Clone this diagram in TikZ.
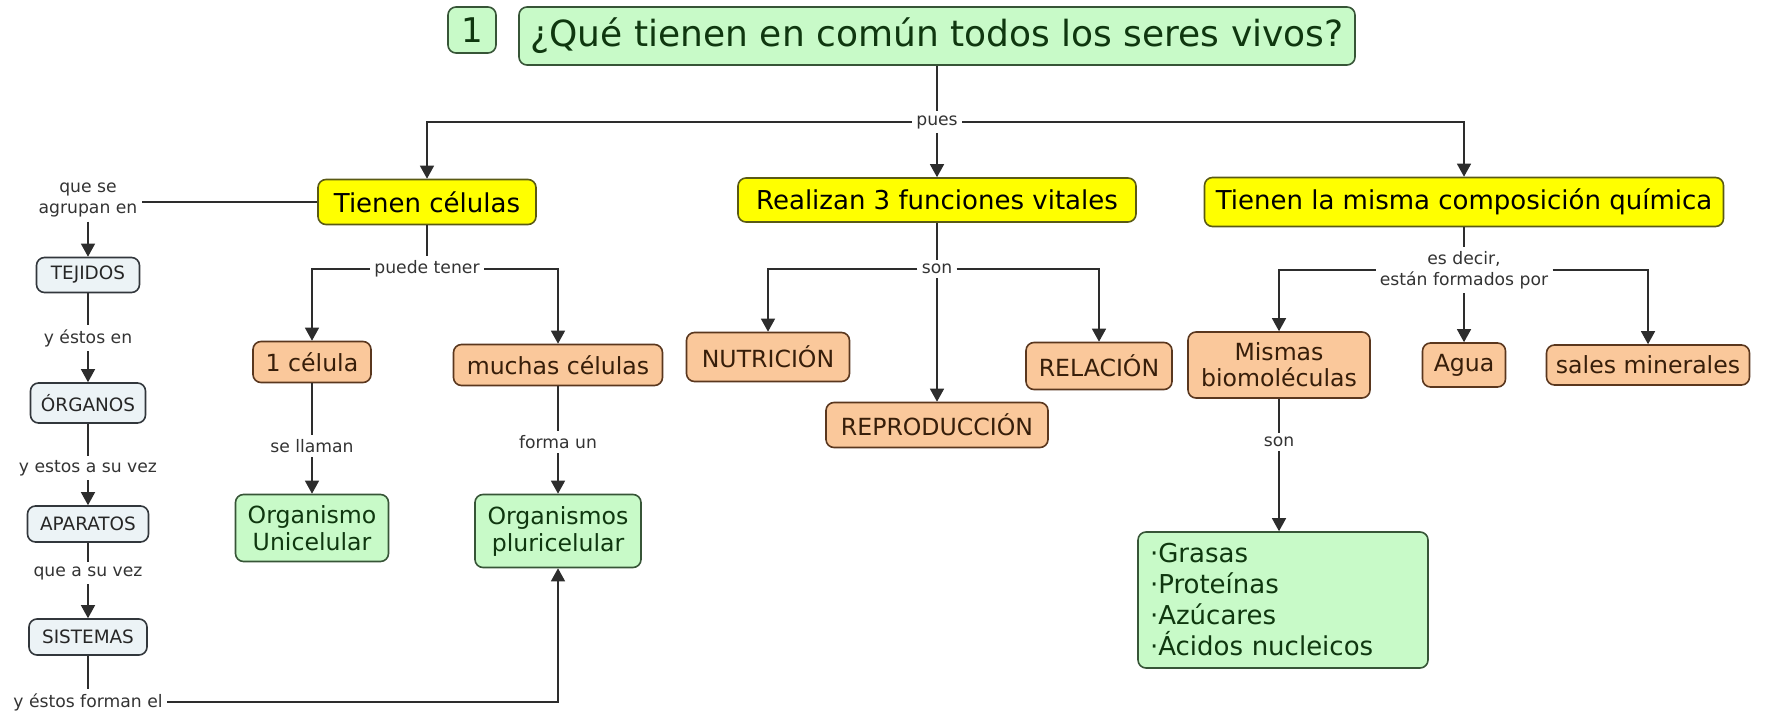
\documentclass[tikz,border=0pt]{standalone}
\usepackage{fontspec}
\setmainfont{DejaVu Sans}
\usetikzlibrary{arrows.meta,calc}
\definecolor{gfill}{RGB}{200,250,200}
\definecolor{gdraw}{RGB}{55,85,55}
\definecolor{gtext}{RGB}{15,55,15}
\definecolor{yfill}{RGB}{255,255,0}
\definecolor{ydraw}{RGB}{90,90,20}
\definecolor{ofill}{RGB}{250,200,155}
\definecolor{odraw}{RGB}{90,55,30}
\definecolor{otext}{RGB}{55,30,10}
\definecolor{bfill}{RGB}{236,243,246}
\definecolor{bdraw}{RGB}{50,55,60}
\definecolor{lcol}{RGB}{45,45,45}
\tikzset{
 cbox/.style={rounded corners=4pt, line width=0.8pt, inner sep=0pt, align=center},
 gbox/.style={cbox, fill=gfill, draw=gdraw, text=gtext},
 ybox/.style={cbox, fill=yfill, draw=ydraw, text=black, font=\fontsize{13}{15}\selectfont},
 obox/.style={cbox, fill=ofill, draw=odraw, text=otext, font=\fontsize{11.8}{13}\selectfont},
 bbox/.style={cbox, fill=bfill, draw=bdraw, text=black!85, font=\fontsize{9.2}{11}\selectfont},
 lab/.style={inner sep=2pt, align=center, text=black!80, font=\fontsize{8.6}{10.5}\selectfont},
 conn/.style={draw=lcol, line width=0.7pt},
 arr/.style={conn, -{Triangle[length=6.5pt,width=7pt]}},
 sz/.style 2 args={minimum width=#1*0.5pt, minimum height=#2*0.5pt}
}
\begin{document}
\begin{tikzpicture}[x=0.5pt,y=-0.5pt]
\useasboundingbox (0,0) rectangle (1765,715);
% top
\node[gbox, sz={48}{46}, font=\fontsize{17}{20}\selectfont] (one) at (472,30) {1};
\node[gbox, sz={836}{58}, font=\fontsize{18}{20}\selectfont] (title) at (937,36) {¿Qué tienen en común todos los seres vivos?};
\node[lab] (pues) at (937,122) {pues};
\node[ybox, sz={218}{45}] (tc) at (427,202) {Tienen células};
\node[ybox, sz={398}{44}] (rf) at (937,200) {Realizan 3 funciones vitales};
\node[ybox, sz={519}{49}] (tm) at (1464,202) {Tienen la misma composición química};
\draw[conn] (title.south) -- (pues.north);
\draw[arr] (pues.west) -| (tc.north);
\draw[arr] (pues.east) -| (tm.north);
\draw[arr] (pues.south) -- (rf.north);
% left chain
\node[lab] (qsa) at (88,200) {que se\\agrupan en};
\draw[conn] (tc.west) -- (tc.west -| qsa.east);
\node[bbox, sz={103}{35}] (tej) at (88,275) {TEJIDOS};
\draw[arr] (qsa.south) -- (tej.north);
\node[lab] (yee) at (88,338) {y éstos en};
\draw[conn] (tej.south) -- (yee.north);
\node[bbox, sz={115}{40}] (org) at (88,403) {ÓRGANOS};
\draw[arr] (yee.south) -- (org.north);
\node[lab] (yea) at (88,468) {y estos a su vez};
\draw[conn] (org.south) -- (yea.north);
\node[bbox, sz={121}{36}] (apa) at (88,524) {APARATOS};
\draw[arr] (yea.south) -- (apa.north);
\node[lab] (qas) at (88,573) {que a su vez};
\draw[conn] (apa.south) -- (qas.north);
\node[bbox, sz={118}{36}] (sis) at (88,637) {SISTEMAS};
\draw[arr] (qas.south) -- (sis.north);
\node[lab] (yef) at (88,702) {y éstos forman el};
\draw[conn] (sis.south) -- (yef.north);
% cells
\node[lab] (pt) at (427,269) {puede tener};
\draw[conn] (tc.south) -- (pt.north);
\node[obox, sz={118}{41}] (c1) at (312,362) {1 célula};
\node[obox, sz={209}{41}] (mc) at (558,365) {muchas células};
\draw[arr] (pt.west) -| (c1.north);
\draw[arr] (pt.east) -| (mc.north);
\node[lab] (sll) at (312,446) {se llaman};
\node[gbox, sz={153}{67}, font=\fontsize{11.8}{13.5}\selectfont] (ou) at (312,528) {Organismo\\Unicelular};
\draw[conn] (c1.south) -- (sll.north);
\draw[arr] (sll.south) -- (ou.north);
\node[lab] (fu) at (558,442) {forma un};
\node[gbox, sz={166}{73}, font=\fontsize{11.8}{13.5}\selectfont] (opl) at (558,531) {Organismos\\pluricelular};
\draw[conn] (mc.south) -- (fu.north);
\draw[arr] (fu.south) -- (opl.north);
\draw[arr] (yef.east) -| (opl.south);
% functions
\node[lab] (son1) at (937,269) {son};
\draw[conn] (rf.south) -- (son1.north);
\node[obox, sz={163}{49}] (nut) at (768,357) {NUTRICIÓN};
\node[obox, sz={222}{45}] (rep) at (937,425) {REPRODUCCIÓN};
\node[obox, sz={146}{47}] (rel) at (1099,366) {RELACIÓN};
\draw[arr] (son1.west) -| (nut.north);
\draw[arr] (son1.east) -| (rel.north);
\draw[arr] (son1.south) -- (rep.north);
% composition
\node[lab] (esd) at (1464,270) {es decir,\\están formados por};
\draw[conn] (tm.south) -- (esd.north);
\node[obox, sz={182}{66}, font=\fontsize{11.8}{13}\selectfont] (mb) at (1279,365) {Mismas\\biomoléculas};
\node[obox, sz={83}{44}] (agua) at (1464,365) {Agua};
\node[obox, sz={203}{40}] (sal) at (1648,365) {sales minerales};
\draw[arr] (esd.west) -| (mb.north);
\draw[arr] (esd.east) -| (sal.north);
\draw[arr] (esd.south) -- (agua.north);
\node[lab] (son2) at (1279,442) {son};
\draw[conn] (mb.south) -- (son2.north);
\node[gbox, text width=133pt, inner xsep=6pt, inner ysep=0pt, minimum height=68pt, align=left, font=\fontsize{13}{15.5}\selectfont] (list) at (1283,600) {·Grasas\\·Proteínas\\·Azúcares\\·Ácidos nucleicos};
\draw[arr] (son2.south) -- (son2.south |- list.north);
\end{tikzpicture}
\end{document}
